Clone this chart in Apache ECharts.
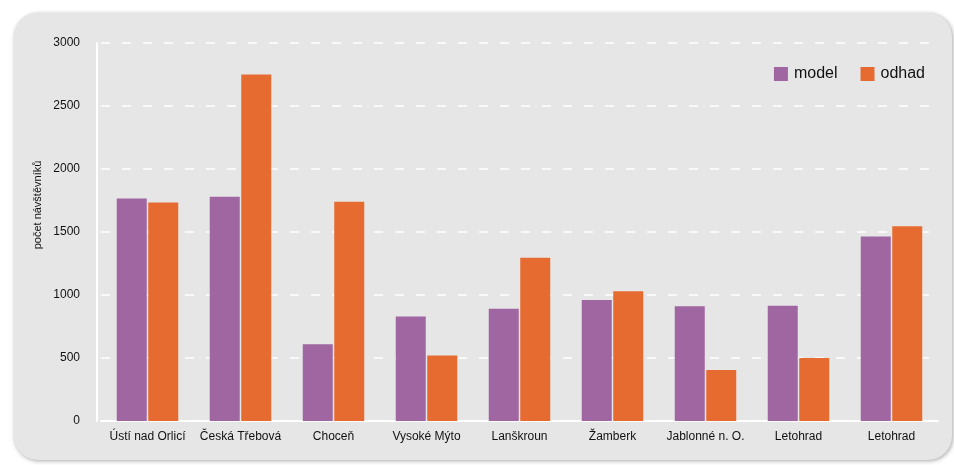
<!DOCTYPE html>
<html>
<head>
<meta charset="utf-8">
<script src="https://cdn.jsdelivr.net/npm/echarts@6/dist/echarts.min.js"></script>
<style>
html,body{margin:0;padding:0;background:#fff;}
#chart{width:954px;height:465px;}
</style>
</head>
<body>
<div id="chart"></div>
<script>
const categories = ['Ústí nad Orlicí', 'Česká Třebová', 'Choceň', 'Vysoké Mýto', 'Lanškroun', 'Žamberk', 'Jablonné n. O.', 'Letohrad', 'Letohrad'];
const modelValues = [1765, 1780, 610, 830, 890, 960, 910, 915, 1465];
const odhadValues = [1735, 2750, 1740, 520, 1295, 1030, 405, 500, 1545];
const seriesNames = ['model', 'odhad'];
const yAxisTitle = 'počet návštěvníků';

const chart = echarts.init(document.getElementById('chart'), null, {renderer: 'canvas'});
const font = 'Liberation Sans, Arial, Helvetica, sans-serif';
chart.setOption({
  animation: false,
  backgroundColor: '#ffffff',
  graphic: [
    {
      type: 'rect', z: -10, silent: true,
      shape: {x: 14, y: 13, width: 938, height: 447, r: 24},
      style: {fill: '#e6e6e6', shadowBlur: 4, shadowOffsetX: 1, shadowOffsetY: 1, shadowColor: 'rgba(0,0,0,0.35)'}
    },
    {
      type: 'text', silent: true,
      x: 38, y: 205, rotation: Math.PI / 2,
      style: {text: yAxisTitle, font: '11px ' + font, fill: '#111', align: 'center', verticalAlign: 'middle'}
    }
  ],
  color: ['#a066a2', '#e66b31'],
  legend: {
    right: 24, top: 61,
    itemWidth: 14, itemHeight: 14, itemGap: 23,
    icon: 'rect',
    textStyle: {fontSize: 16, color: '#111', fontFamily: font, padding: [0, 0, 0, 1]},
    data: seriesNames
  },
  grid: {left: 101, right: 16, top: 43, bottom: 44},
  xAxis: {
    type: 'category',
    data: categories,
    axisLine: {show: true, lineStyle: {color: '#ffffff', width: 2}},
    axisTick: {show: false},
    axisLabel: {color: '#111', fontSize: 12, fontFamily: font, margin: 10, interval: 0}
  },
  yAxis: {
    type: 'value',
    min: 0, max: 3000, interval: 500,
    offset: 4,
    axisLine: {show: true, lineStyle: {color: '#ffffff', width: 2}},
    axisTick: {show: false},
    axisLabel: {color: '#111', fontSize: 12, fontFamily: font, margin: 17, formatter: function (v) { return String(v); }},
    splitLine: {show: true, lineStyle: {color: '#ffffff', width: 1.5, type: [9, 12]}}
  },
  series: [
    {name: seriesNames[0], type: 'bar', data: modelValues, barWidth: 30, barGap: '5%'},
    {name: seriesNames[1], type: 'bar', data: odhadValues, barWidth: 30, barGap: '5%'}
  ]
});
</script>
</body>
</html>
